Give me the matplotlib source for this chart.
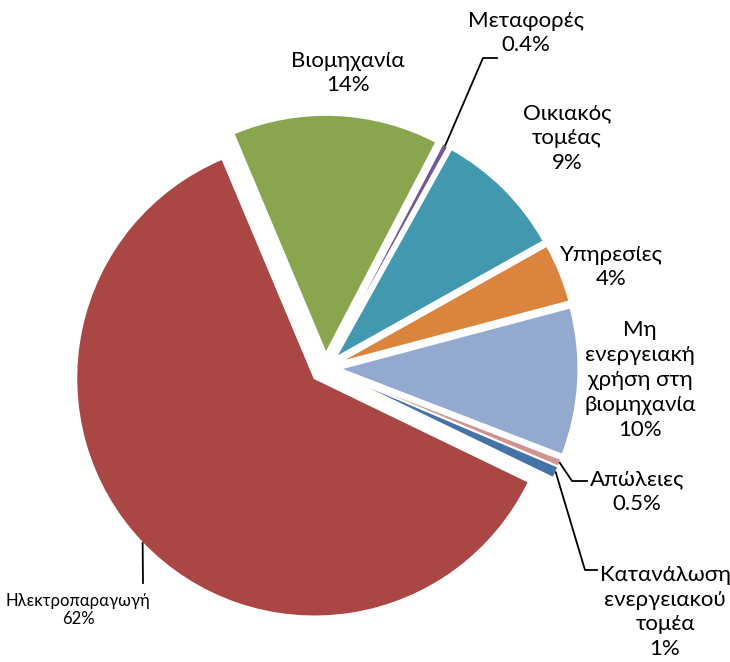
import matplotlib.pyplot as plt
import numpy as np

plt.rcParams['font.family'] = ['Lato', 'DejaVu Sans']

labels = ['Βιομηχανία', 'Μεταφορές', 'Οικιακός\nτομέας', 'Υπηρεσίες',
          'Μη\nενεργειακή\nχρήση στη\nβιομηχανία', 'Απώλειες',
          'Κατανάλωση\nενεργειακού\nτομέα', 'Ηλεκτροπαραγωγή']
values = [14.0, 0.4, 8.8, 4.0, 10.0, 0.5, 0.8, 61.5]
pct_text = ['14%', '0.4%', '9%', '4%', '10%', '0.5%', '1%', '62%']
colors = ['#89A54E', '#71588F', '#4198AF', '#DB843D', '#93A9CF',
          '#D19392', '#4572A7', '#AA4643']

W, H = 730, 662
CX, CY, R = 325.3, 368.0, 238.0


def px(x, y):
    # pixel position -> data coords (pie radius = 1)
    return (x - CX) / R, (CY - y) / R


fig = plt.figure(figsize=(W / 100, H / 100), dpi=100)
ax = fig.add_axes([0, 0, 1, 1])
wedges, _ = ax.pie(values, colors=colors, explode=[0.063] * len(values),
                   startangle=112.8, counterclock=False, radius=1,
                   wedgeprops=dict(edgecolor='white', linewidth=1.2))
ax.set_xlim(-CX / R, (W - CX) / R)
ax.set_ylim(-(H - CY) / R, CY / R)
ax.set_aspect('equal')
ax.axis('off')

# label block centres (pixels), font sizes, line spacing
lab_pos = [(348, 73), (526, 33), (567, 138), (611, 267), (640, 380),
           (637, 492), (665, 612), (78, 610)]
lab_size = [16, 16, 16, 16, 16, 16, 16, 12]
lab_ls = [1.3, 1.3, 1.3, 1.3, 1.3, 1.3, 1.3, 1.15]

for i, (lab, pct) in enumerate(zip(labels, pct_text)):
    x, y = px(*lab_pos[i])
    ax.text(x, y, lab + '\n' + pct, ha='center', va='center',
            multialignment='center', fontsize=lab_size[i],
            linespacing=lab_ls[i], color='black')

# leader lines: (wedge index, anchor angle or None for mid, elbow, end)
leaders = [(1, None, (483, 58), (497, 58)),
           (5, None, (572, 481), (587, 481)),
           (6, None, (585, 570), (597, 570)),
           (7, 223.8, (143, 583), None)]

for idx, ang, elbow, end in leaders:
    w = wedges[idx]
    if ang is None:
        ang = (w.theta1 + w.theta2) / 2
    cx, cy = w.center
    a = np.deg2rad(ang)
    xs = [cx + w.r * np.cos(a)]
    ys = [cy + w.r * np.sin(a)]
    for p in (elbow, end):
        if p is None:
            continue
        x, y = px(*p)
        xs.append(x)
        ys.append(y)
    ax.plot(xs, ys, color='black', lw=1.3)

fig.savefig('out.png', dpi=100)
